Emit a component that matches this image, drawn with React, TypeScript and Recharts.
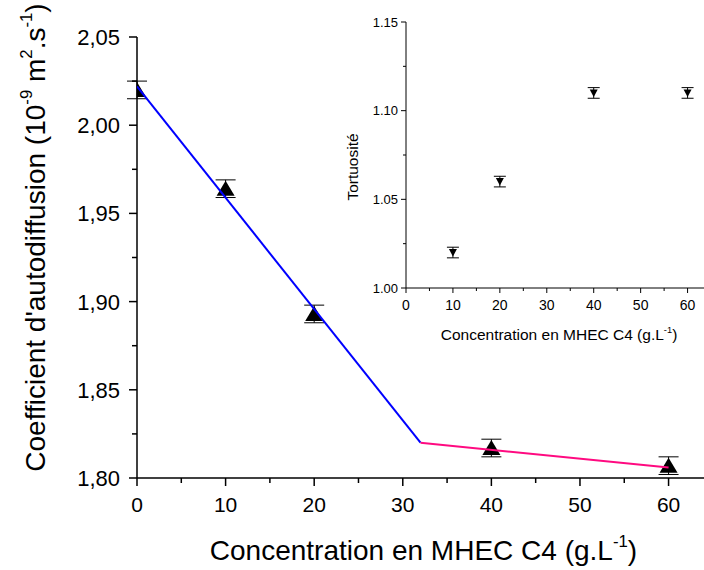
import { ComposedChart, Scatter, XAxis, YAxis, ErrorBar } from "recharts"

const FONT = "'Liberation Sans', Arial, sans-serif"

// main plot: self-diffusion coefficient vs MHEC C4 concentration
const concentrations = [0, 10, 20, 40, 60]
const diffusion = [2.02, 1.964, 1.893, 1.817, 1.807]
const diffusionErr = [0.005, 0.005, 0.005, 0.005, 0.005]

// two linear fits
const fitBlueX = [0, 32]
const fitBlueY = [2.022, 1.82]
const fitPinkX = [32, 60]
const fitPinkY = [1.82, 1.806]

// inset: tortuosity
const insetConc = [10, 20, 40, 60]
const tortuosity = [1.02, 1.06, 1.11, 1.11]
const tortuosityErr = [0.003, 0.003, 0.003, 0.003]

const mainXTicks = [0, 5, 10, 15, 20, 25, 30, 35, 40, 45, 50, 55, 60]
const mainXLabels = ["0", "", "10", "", "20", "", "30", "", "40", "", "50", "", "60"]
const mainYTicks = [1.8, 1.825, 1.85, 1.875, 1.9, 1.925, 1.95, 1.975, 2.0, 2.025, 2.05]
const mainYLabels = ["1,80", "", "1,85", "", "1,90", "", "1,95", "", "2,00", "", "2,05"]

const insetXTicks = [0, 5, 10, 15, 20, 25, 30, 35, 40, 45, 50, 55, 60]
const insetXLabels = ["0", "", "10", "", "20", "", "30", "", "40", "", "50", "", "60"]
const insetYTicks = [1.0, 1.025, 1.05, 1.075, 1.1, 1.125, 1.15]
const insetYLabels = ["1.00", "", "1.05", "", "1.10", "", "1.15"]

const mainData = concentrations.map((x, i) => ({ x, y: diffusion[i], err: diffusionErr[i] }))
const blueData = fitBlueX.map((x, i) => ({ x, y: fitBlueY[i] }))
const pinkData = fitPinkX.map((x, i) => ({ x, y: fitPinkY[i] }))
const insetData = insetConc.map((x, i) => ({ x, y: tortuosity[i], err: tortuosityErr[i] }))

const findIdx = (ticks: number[], v: number) => ticks.findIndex((t) => Math.abs(t - v) < 1e-6)

type Part = { t: string; sup?: boolean }

function SupText({ parts, fs, ...rest }: { parts: Part[]; fs: number; [k: string]: any }) {
  const supFs = fs * 0.6
  const shift = fs * 0.45
  const out: any[] = []
  let raised = false
  parts.forEach((p, i) => {
    let dy = 0
    if (p.sup && !raised) { dy = -shift; raised = true }
    else if (!p.sup && raised) { dy = shift; raised = false }
    out.push(
      <tspan key={i} dy={dy} fontSize={p.sup ? supFs : fs}>{p.t}</tspan>
    )
  })
  return <text fontFamily={FONT} fill="#000" {...rest}>{out}</text>
}

const xTitleParts: Part[] = [{ t: "Concentration en MHEC C4 (g.L" }, { t: "-1", sup: true }, { t: ")" }]
const yTitleParts: Part[] = [
  { t: "Coefficient d'autodiffusion (10" },
  { t: "-9", sup: true },
  { t: " m" },
  { t: "2", sup: true },
  { t: ".s" },
  { t: "-1", sup: true },
  { t: ")" },
]

function MainXTick({ x, y, payload }: any) {
  const i = findIdx(mainXTicks, payload.value)
  const label = mainXLabels[i] ?? ""
  const major = label !== ""
  return (
    <g>
      <line x1={x} y1={y} x2={x} y2={y + (major ? 8 : 5)} stroke="#000" strokeWidth={1.5} />
      {major && (
        <text x={x} y={y + 34} textAnchor="middle" fontSize={21} fontFamily={FONT} fill="#000">
          {label}
        </text>
      )}
    </g>
  )
}

function MainYTick({ x, y, payload }: any) {
  const i = findIdx(mainYTicks, payload.value)
  const label = mainYLabels[i] ?? ""
  const major = label !== ""
  return (
    <g>
      <line x1={x} y1={y} x2={x - (major ? 8 : 5)} y2={y} stroke="#000" strokeWidth={1.5} />
      {major && (
        <text x={x - 17} y={y} dy="0.36em" textAnchor="end" fontSize={22} fontFamily={FONT} fill="#000">
          {label}
        </text>
      )}
    </g>
  )
}

function InsetXTick({ x, y, payload }: any) {
  const i = findIdx(insetXTicks, payload.value)
  const label = insetXLabels[i] ?? ""
  const major = label !== ""
  return (
    <g>
      <line x1={x} y1={y} x2={x} y2={y + (major ? 5 : 3)} stroke="#000" strokeWidth={1} />
      {major && (
        <text x={x} y={y + 22} textAnchor="middle" fontSize={14} fontFamily={FONT} fill="#000">
          {label}
        </text>
      )}
    </g>
  )
}

function InsetYTick({ x, y, payload }: any) {
  const i = findIdx(insetYTicks, payload.value)
  const label = insetYLabels[i] ?? ""
  const major = label !== ""
  return (
    <g>
      <line x1={x} y1={y} x2={x - (major ? 5 : 3)} y2={y} stroke="#000" strokeWidth={1} />
      {major && (
        <text x={x - 8} y={y} dy="0.36em" textAnchor="end" fontSize={13} fontFamily={FONT} fill="#000">
          {label}
        </text>
      )}
    </g>
  )
}

const UpTriangle = (p: any) => {
  const { cx, cy } = p
  if (cx == null || cy == null) return <g />
  return <path d={`M${cx},${cy - 8} L${cx + 9},${cy + 7} L${cx - 9},${cy + 7} Z`} fill="#000" />
}

const DownTriangle = (p: any) => {
  const { cx, cy } = p
  if (cx == null || cy == null) return <g />
  return <path d={`M${cx - 4},${cy - 3.5} L${cx + 4},${cy - 3.5} L${cx},${cy + 4} Z`} fill="#000" />
}

const NoShape = () => <g />

export default function App() {
  return (
    <div style={{ position: "absolute", left: 0, top: 0, width: 704, height: 570, background: "#fff" }}>
      <div style={{ position: "absolute", left: 0, top: 0 }}>
        <ComposedChart width={704} height={570} margin={{ top: 37, right: 0, bottom: 32, left: 57 }}>
          <XAxis
            type="number"
            dataKey="x"
            domain={[0, 64]}
            ticks={mainXTicks}
            interval={0}
            allowDataOverflow
            height={60}
            tickSize={0}
            tickMargin={0}
            tickLine={false}
            axisLine={{ stroke: "#000", strokeWidth: 1.5 }}
            tick={<MainXTick />}
            label={{
              content: (props: any) => {
                const vb = props.viewBox
                return (
                  <SupText
                    parts={xTitleParts}
                    fs={28}
                    x={vb.x + vb.width / 2 + 3}
                    y={vb.y + 82}
                    textAnchor="middle"
                  />
                )
              },
            }}
          />
          <YAxis
            type="number"
            dataKey="y"
            domain={[1.8, 2.05]}
            ticks={mainYTicks}
            interval={0}
            allowDataOverflow
            width={80}
            tickSize={0}
            tickMargin={0}
            tickLine={false}
            axisLine={{ stroke: "#000", strokeWidth: 1.5 }}
            tick={<MainYTick />}
            label={{
              content: (props: any) => {
                const vb = props.viewBox
                const cx = 45
                const cy = vb.y + vb.height / 2 - 20
                return (
                  <SupText
                    parts={yTitleParts}
                    fs={28}
                    x={cx}
                    y={cy}
                    textAnchor="middle"
                    transform={`rotate(-90, ${cx}, ${cy})`}
                  />
                )
              },
            }}
          />
          <Scatter data={mainData} shape={UpTriangle} isAnimationActive={false}>
            <ErrorBar dataKey="err" direction="y" width={10} stroke="#000" strokeWidth={1} isAnimationActive={false} />
          </Scatter>
          <Scatter
            data={blueData}
            line={{ stroke: "#0000ff", strokeWidth: 2 }}
            shape={NoShape}
            isAnimationActive={false}
          />
          <Scatter
            data={pinkData}
            line={{ stroke: "#ff0a80", strokeWidth: 2 }}
            shape={NoShape}
            isAnimationActive={false}
          />
        </ComposedChart>
      </div>
      <div style={{ position: "absolute", left: 330, top: 0 }}>
        <ComposedChart width={374} height={360} margin={{ top: 22, right: 0, bottom: 32, left: 16 }}>
          <XAxis
            type="number"
            dataKey="x"
            domain={[0, 63.5]}
            ticks={insetXTicks}
            interval={0}
            allowDataOverflow
            height={40}
            tickSize={0}
            tickMargin={0}
            tickLine={false}
            axisLine={{ stroke: "#000", strokeWidth: 1 }}
            tick={<InsetXTick />}
            label={{
              content: (props: any) => {
                const vb = props.viewBox
                return (
                  <SupText parts={xTitleParts} fs={15.5} x={229} y={vb.y + 52} textAnchor="middle" />
                )
              },
            }}
          />
          <YAxis
            type="number"
            dataKey="y"
            domain={[1.0, 1.15]}
            ticks={insetYTicks}
            interval={0}
            allowDataOverflow
            width={60}
            tickSize={0}
            tickMargin={0}
            tickLine={false}
            axisLine={{ stroke: "#000", strokeWidth: 1 }}
            tick={<InsetYTick />}
            label={{
              content: () => {
                const cx = 28
                const cy = 167
                return (
                  <text
                    x={cx}
                    y={cy}
                    textAnchor="middle"
                    fontSize={15.5}
                    fontFamily={FONT}
                    fill="#000"
                    transform={`rotate(-90, ${cx}, ${cy})`}
                  >
                    Tortuosité
                  </text>
                )
              },
            }}
          />
          <Scatter data={insetData} shape={DownTriangle} isAnimationActive={false}>
            <ErrorBar dataKey="err" direction="y" width={6} stroke="#000" strokeWidth={1} isAnimationActive={false} />
          </Scatter>
        </ComposedChart>
      </div>
    </div>
  )
}
